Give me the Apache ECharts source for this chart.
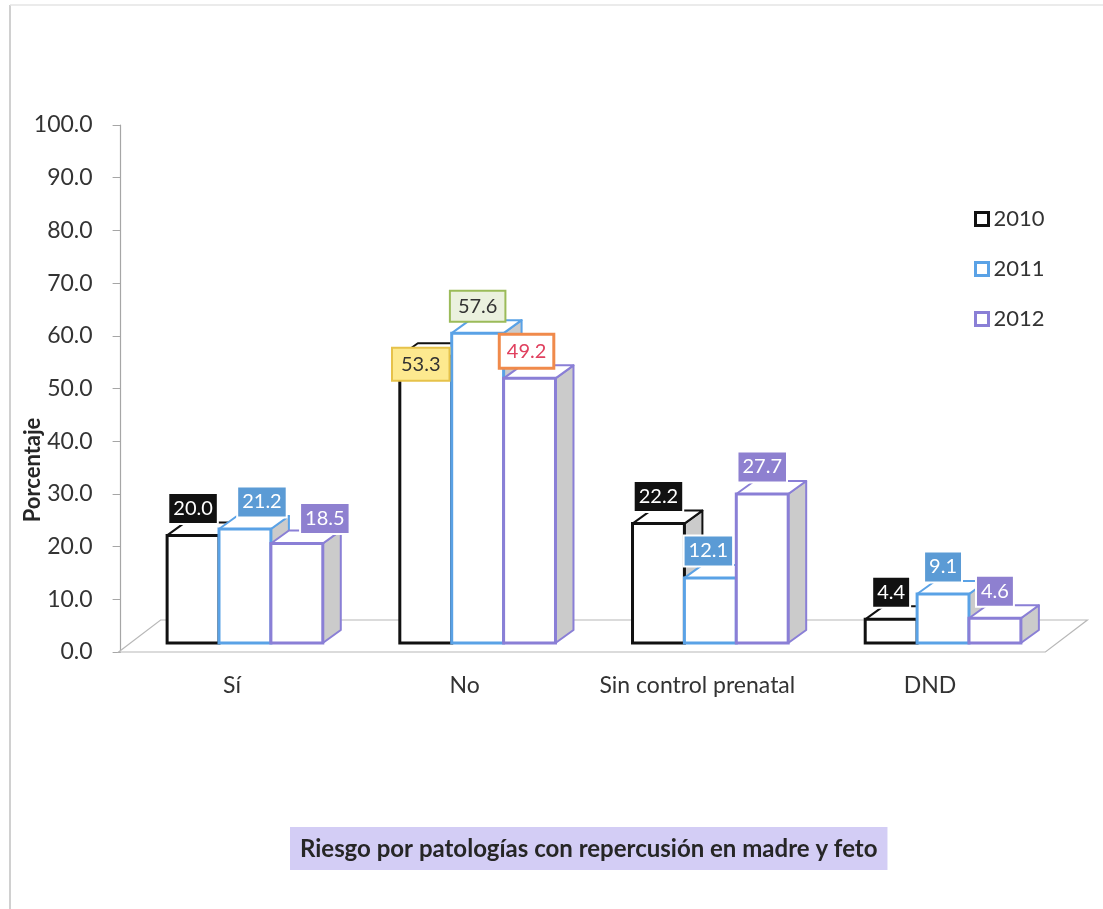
<!DOCTYPE html>
<html>
<head>
<meta charset="utf-8">
<script src="https://cdn.jsdelivr.net/npm/echarts@6/dist/echarts.min.js"></script>
<style>
  html, body { margin: 0; padding: 0; background: #fff; }
  #chart { width: 1103px; height: 909px; }
</style>
</head>
<body>
<div id="chart"></div>
<script>
// Data
const categories = ['Sí', 'No', 'Sin control prenatal', 'DND'];
const years = ['2010', '2011', '2012'];
const values2010 = [20.0, 53.3, 22.2, 4.4];
const values2011 = [21.2, 57.6, 12.1, 9.1];
const values2012 = [18.5, 49.2, 27.7, 4.6];
const yMin = 0, yMax = 100, yStep = 10;
const chartTitle = 'Riesgo por patologías con repercusión en madre y feto';
const yName = 'Porcentaje';

// Look
const FONT = 'Lato, "Open Sans", sans-serif';
const DEPTH_X = 18, DEPTH_Y = -13;      // oblique depth of each bar
const BAR_FRACTION = 0.223;             // bar width as a share of the category band
const SERIES_STYLE = [
  { line: '#111111', label: '#111111', text: '#ffffff' },
  { line: '#5aa2e6', label: '#5b9bd5', text: '#ffffff' },
  { line: '#8a7fd6', label: '#8e80d0', text: '#ffffff' }
];
// Individual label tweaks, keyed "category,series"
const LABEL_TWEAK = {
  '0,1': { dx: 17 },
  '0,2': { dx: 28, dy: 2 },
  '1,0': { dx: -5, dy: 35, bg: '#fde98f', border: '#e6c24a', text: '#333333', bw: 2, pad: [6, 8, 5, 8] },
  '1,1': { bg: '#ebf1de', border: '#9bbb59', text: '#333333', bw: 2, pad: [5, 7, 4, 7] },
  '1,2': { dx: -3, bg: '#ffffff', border: '#f08a4b', text: '#e0405e', bw: 3, pad: [6, 6, 5, 6] },
  '2,1': { dx: -2 }
};

function barSeries(k, values) {
  const st = SERIES_STYLE[k];
  return {
    name: years[k],
    type: 'custom',
    xAxisIndex: 0,
    yAxisIndex: 1,
    z: 3,
    data: values.map((v, i) => [i, v]),
    renderItem(params, api) {
      const i = api.value(0), v = api.value(1);
      const band = api.size([1, 0])[0];
      const bw = band * BAR_FRACTION;
      const base = api.coord([i, 0]);
      const top = api.coord([i, v]);
      const x0 = base[0] + (k - 1.5) * bw, x1 = x0 + bw;
      const yb = base[1], yt = top[1];
      const tw = LABEL_TWEAK[i + ',' + k] || {};
      const zb = 10 + k * 3;
      return {
        type: 'group',
        children: [
          {
            type: 'polygon', z2: zb,
            shape: { points: [[x1, yt], [x1 + DEPTH_X, yt + DEPTH_Y], [x1 + DEPTH_X, yb + DEPTH_Y], [x1, yb]] },
            style: { fill: '#cbcbcb', stroke: st.line, lineWidth: 2, lineJoin: 'round' }
          },
          {
            type: 'polygon', z2: zb + 1,
            shape: { points: [[x0, yt], [x0 + DEPTH_X, yt + DEPTH_Y], [x1 + DEPTH_X, yt + DEPTH_Y], [x1, yt]] },
            style: { fill: '#ffffff', stroke: st.line, lineWidth: 2, lineJoin: 'round' }
          },
          {
            type: 'rect', z2: zb + 2,
            shape: { x: x0, y: yt, width: bw, height: yb - yt },
            style: { fill: '#ffffff', stroke: st.line, lineWidth: 3 }
          },
          {
            type: 'text', z2: 100,
            x: (x0 + x1) / 2 + (tw.dx || 0),
            y: yt - 27 + (tw.dy || 0),
            style: {
              text: v.toFixed(1),
              fill: tw.text || st.text,
              fontFamily: FONT, fontSize: 20,
              align: 'center', verticalAlign: 'middle',
              backgroundColor: tw.bg || st.label,
              borderColor: tw.border || '#ffffff',
              borderWidth: tw.bw || 2,
              padding: tw.pad || [5, 4, 4, 4]
            }
          }
        ]
      };
    }
  };
}

// Floor plane under the bars
const floorSeries = {
  type: 'custom',
  xAxisIndex: 0,
  yAxisIndex: 0,
  z: 1,
  silent: true,
  data: [[0, 0]],
  renderItem(params, api) {
    const cs = params.coordSys;
    const yf = cs.y + cs.height;
    const xl = cs.x - 10, xr = cs.x + cs.width - 14;
    return {
      type: 'polygon',
      shape: { points: [[xl, yf], [xl + 42, yf - 32], [xr + 42, yf - 32], [xr, yf]] },
      style: { fill: '#ffffff', stroke: '#b8b8b8', lineWidth: 1.2 }
    };
  }
};

const chart = echarts.init(document.getElementById('chart'), null, { renderer: 'canvas' });
chart.setOption({
  backgroundColor: '#ffffff',
  animation: false,
  textStyle: { fontFamily: FONT },
  grid: { left: 128.6, right: 43.6, top: 125, bottom: 257, containLabel: false },
  title: {
    text: chartTitle,
    left: 290, top: 827,
    padding: [10, 10, 9, 10],
    backgroundColor: '#d3cdf5',
    textStyle: { fontFamily: FONT, fontSize: 24, fontWeight: 'bold', color: '#262626', lineHeight: 24 }
  },
  legend: {
    orient: 'vertical',
    left: 974, top: 208,
    padding: 0,
    itemGap: 28,
    itemWidth: 13, itemHeight: 13,
    textStyle: { fontFamily: FONT, fontSize: 22, color: '#333333', lineHeight: 22 },
    data: years.map((y, k) => ({
      name: y, icon: 'rect',
      itemStyle: { color: '#ffffff', borderColor: SERIES_STYLE[k].line, borderWidth: 3 }
    }))
  },
  xAxis: {
    type: 'category',
    data: categories,
    axisLine: { show: false },
    axisTick: { show: false },
    axisLabel: { interval: 0, fontFamily: FONT, fontSize: 23, color: '#333333', margin: 22, padding: [0, 26, 0, 0] }
  },
  yAxis: [
    {
      type: 'value', min: yMin, max: yMax, interval: yStep,
      offset: 8,
      axisLine: { show: true, lineStyle: { color: '#a6a6a6', width: 1.2 } },
      axisTick: { show: true, length: 8, lineStyle: { color: '#a6a6a6' } },
      splitLine: { show: false },
      axisLabel: { fontFamily: FONT, fontSize: 23, color: '#333333', margin: 28, formatter: v => v.toFixed(1) }
    },
    {
      // bar scale: front faces stand slightly behind the floor's front edge
      type: 'value', min: -1.673, max: 96.29, show: false
    }
  ],
  graphic: [
    { type: 'line', shape: { x1: 10, y1: 5, x2: 10, y2: 909 }, style: { stroke: '#d0d0d0', lineWidth: 2 } },
    { type: 'line', shape: { x1: 10, y1: 5, x2: 1103, y2: 5 }, style: { stroke: '#e4e4e4', lineWidth: 1.5 } },
    {
      type: 'text', x: 33, y: 470, rotation: Math.PI / 2,
      style: { text: yName, fontFamily: FONT, fontSize: 22, fontWeight: 'bold', fill: '#262626', align: 'center', verticalAlign: 'middle' }
    }
  ],
  series: [
    floorSeries,
    barSeries(0, values2010),
    barSeries(1, values2011),
    barSeries(2, values2012)
  ]
});
</script>
</body>
</html>
